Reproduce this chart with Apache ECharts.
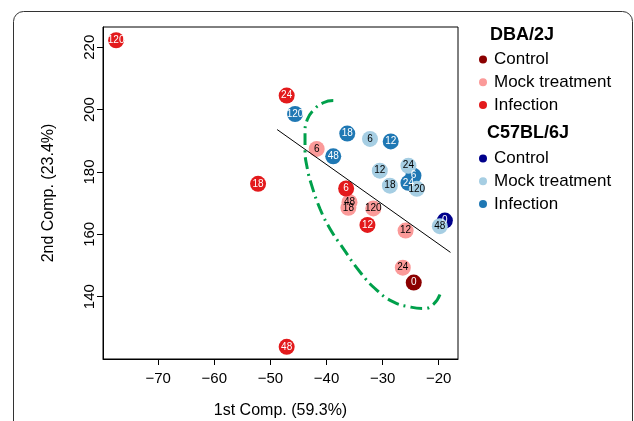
<!DOCTYPE html>
<html><head><meta charset="utf-8">
<script src="https://cdn.jsdelivr.net/npm/echarts@6/dist/echarts.min.js"></script>
<style>html,body{margin:0;padding:0;background:#fff}#c{width:634px;height:421px}</style>
</head><body><div id="c"></div>
<script>
// tick labels
const xTicks = [-70, -60, -50, -40, -30, -20];
const yTicks = [140, 160, 180, 200, 220];
// [PC1, PC2, time label]
const dbaControl = [[-24.45, 144.5, '0']];
const dbaMock = [[-41.75, 187.4, '6'], [-25.9, 161.2, '12'], [-26.4, 149.3, '24'], [-35.9, 170.3, '48'], [-36.1, 168.5, '18'], [-31.66, 168.3, '120']];
const dbaInfection = [[-36.5, 174.7, '6'], [-32.7, 163.0, '12'], [-52.2, 176.2, '18'], [-47.1, 204.5, '24'], [-47.1, 123.9, '48'], [-77.5, 222.25, '120']];
const c57Control = [[-18.9, 164.4, '0']];
const c57Infection = [[-24.5, 178.8, '6'], [-28.55, 189.8, '12'], [-36.3, 192.3, '18'], [-25.4, 176.5, '24'], [-38.8, 185.0, '48'], [-45.6, 198.6, '120']];
const c57Mock = [[-32.25, 190.6, '6'], [-30.5, 180.4, '12'], [-28.7, 175.6, '18'], [-25.4, 182.0, '24'], [-19.8, 162.6, '48'], [-23.9, 174.6, '120']];
// separating line and outlined region
const sepLine = [[-48.8, 193.6], [-17.9, 154.2]];
const regionCurve = [[-38.79, 202.9], [-40.57, 202.2], [-42.35, 199.8], [-43.42, 196.8], [-43.83, 192.5], [-43.83, 187.2], [-43.42, 181.1], [-42.64, 175.7], [-41.16, 168.2], [-39.38, 161.8], [-37.0, 155.4], [-34.03, 147.9], [-31.05, 142.1], [-28.09, 138.3], [-25.12, 136.7], [-22.75, 136.2], [-20.96, 137.5], [-19.77, 140.7]];

const FONT = 'Liberation Sans, Arial, Helvetica, sans-serif';
function pts(name, data, color, textColor) {
  return {
    type: 'scatter', name: name, data: data, symbol: 'circle', symbolSize: 16,
    encode: { x: 0, y: 1 },
    itemStyle: { color: color, opacity: 1 },
    label: { show: true, position: 'inside', formatter: p => p.value[2], fontSize: 10, fontFamily: FONT, color: textColor },
    emphasis: { disabled: true }
  };
}
const chart = echarts.init(document.getElementById('c'), null, { renderer: 'canvas' });
const legendBase = {
  orient: 'vertical', left: 474, icon: 'circle', itemWidth: 8, itemHeight: 8, itemGap: 5.7,
  selectedMode: false,
  textStyle: { fontSize: 17, fontFamily: FONT, color: '#000', padding: [0, 0, 0, 2] },
  formatter: n => n.slice(n.indexOf(' ') + 1)
};
chart.setOption({
  animation: false,
  backgroundColor: '#fff',
  grid: { left: 103, right: 176, top: 27, bottom: 62, show: true, borderColor: '#000', borderWidth: 1, containLabel: false, outerBoundsMode: 'none' },
  xAxis: {
    type: 'value', min: -79.84, max: -16.56,
    name: '1st Comp. (59.3%)', nameLocation: 'middle', nameGap: 44,
    nameTextStyle: { fontSize: 16, fontFamily: FONT, color: '#000' },
    axisLine: { show: true, lineStyle: { color: '#000', width: 1 } },
    axisTick: { show: true, length: 6, lineStyle: { color: '#000' }, customValues: xTicks },
    axisLabel: { fontSize: 15, fontFamily: FONT, color: '#000', margin: 12, customValues: xTicks, formatter: v => String(v).replace('-', '\u2212') },
    splitLine: { show: false }
  },
  yAxis: {
    type: 'value', min: 120.0, max: 226.5,
    name: '2nd Comp. (23.4%)', nameLocation: 'middle', nameGap: 46, nameRotate: 90,
    nameTextStyle: { fontSize: 16, fontFamily: FONT, color: '#000' },
    axisLine: { show: true, lineStyle: { color: '#000', width: 1 } },
    axisTick: { show: true, length: 6, lineStyle: { color: '#000' }, customValues: yTicks },
    axisLabel: { fontSize: 15, fontFamily: FONT, color: '#000', margin: 6, rotate: 90, customValues: yTicks },
    splitLine: { show: false }
  },
  legend: [
    Object.assign({}, legendBase, { top: 46, data: ['DBA/2J Control', 'DBA/2J Mock treatment', 'DBA/2J Infection'] }),
    Object.assign({}, legendBase, { top: 145, data: ['C57BL/6J Control', 'C57BL/6J Mock treatment', 'C57BL/6J Infection'] })
  ],
  graphic: [
    { type: 'rect', silent: true, z: -10, shape: { x: 13.5, y: 11.5, width: 619, height: 480, r: 10 }, style: { fill: 'none', stroke: '#333', lineWidth: 1 } },
    { type: 'text', silent: true, style: { x: 490, y: 35, text: 'DBA/2J', font: 'bold 18px ' + FONT, fill: '#000', verticalAlign: 'middle' } },
    { type: 'text', silent: true, style: { x: 487, y: 132.7, text: 'C57BL/6J', font: 'bold 18px ' + FONT, fill: '#000', verticalAlign: 'middle' } }
  ],
  series: [
    pts('DBA/2J Control', dbaControl, '#8B0000', '#fff'),
    pts('DBA/2J Mock treatment', dbaMock, '#FB9A99', '#000'),
    pts('DBA/2J Infection', dbaInfection, '#E31A1C', '#fff'),
    pts('C57BL/6J Control', c57Control, '#00008B', '#fff'),
    pts('C57BL/6J Infection', c57Infection, '#1F78B4', '#fff'),
    pts('C57BL/6J Mock treatment', c57Mock, '#A6CEE3', '#000'),
    { type: 'line', name: 'sep', data: sepLine, symbol: 'none', silent: true, lineStyle: { color: '#000', width: 1 }, z: 3 },
    { type: 'line', name: 'region', data: regionCurve, symbol: 'none', smooth: 0.5, silent: true, lineStyle: { color: '#00A04B', width: 3, type: [12, 5, 2, 5], cap: 'butt' }, z: 3 }
  ]
});
</script></body></html>
